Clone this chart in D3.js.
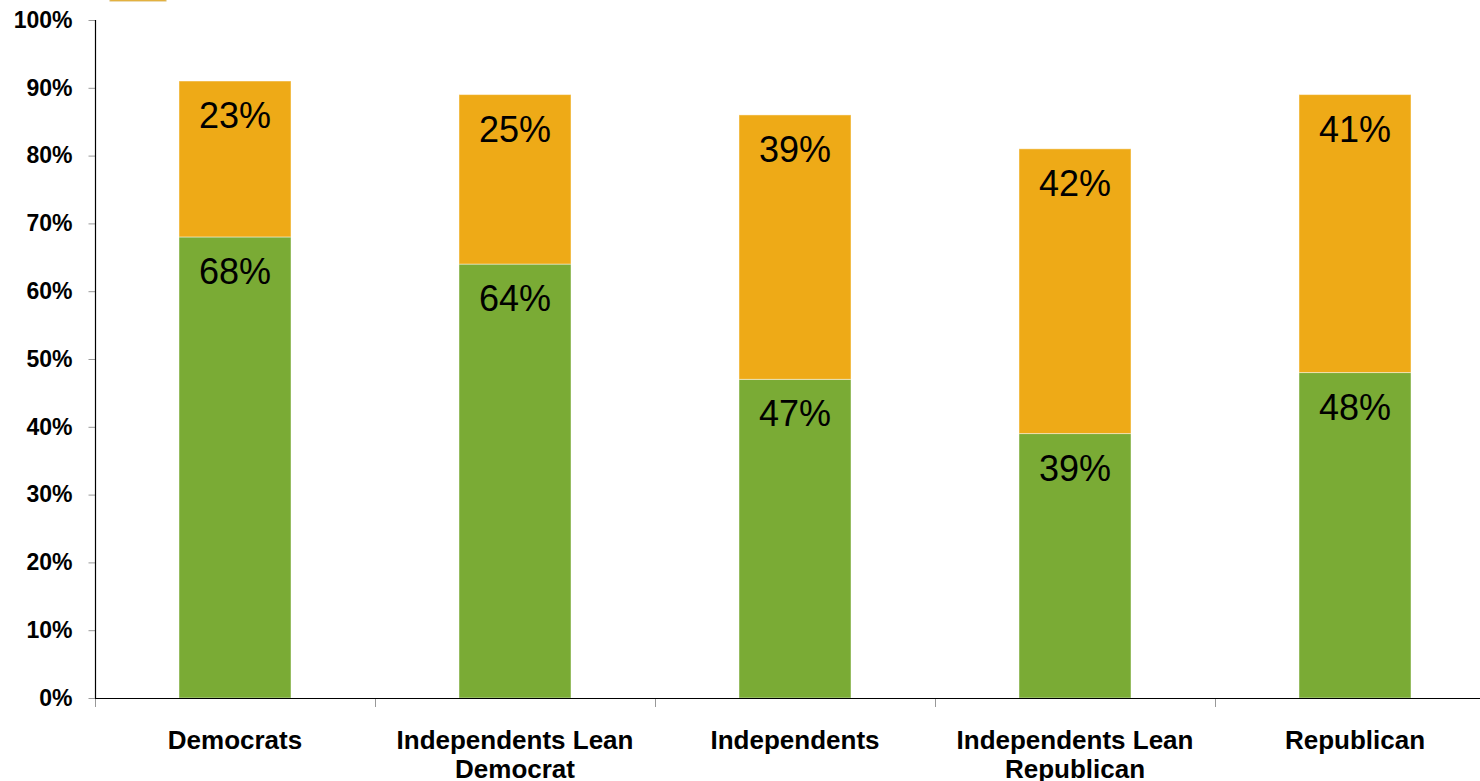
<!DOCTYPE html>
<html>
<head>
<meta charset="utf-8">
<script src="https://cdn.jsdelivr.net/npm/d3@7"></script>
<style>
html,body{margin:0;padding:0;background:#fff;}
svg{display:block;font-family:Arial,"Liberation Sans",sans-serif;}
</style>
</head>
<body>
<svg id="chart" width="1480" height="781"></svg>
<script>
const categories = [["Democrats"], ["Independents Lean", "Democrat"], ["Independents"], ["Independents Lean", "Republican"], ["Republican"]];
const greenValues = [68, 64, 47, 39, 48];
const orangeValues = [23, 25, 39, 42, 41];
const yTicks = [0, 10, 20, 30, 40, 50, 60, 70, 80, 90, 100];

const green = "#7AAB35";
const orange = "#EEAA17";

const svg = d3.select("#chart");
const keys = categories.map((c, i) => i);

const x = d3.scaleBand().domain(keys).range([95, 1495]).paddingInner(0.6).paddingOuter(0.3);
const y = d3.scaleLinear().domain([0, 100]).range([698, 20]);

// legend fragment at top
svg.append("rect").attr("x", 110).attr("y", -20).attr("width", 56).attr("height", 21)
  .attr("fill", orange).attr("stroke", "#D9B96A").attr("stroke-width", 1);

// y axis
const yAxis = d3.axisLeft(y).tickValues(yTicks).tickSize(7).tickPadding(16).tickFormat(d => d + "%");
const gy = svg.append("g").attr("transform", "translate(95.5,0)").call(yAxis);
gy.select(".domain").remove();
gy.selectAll(".tick line").attr("stroke", "#999");
gy.selectAll(".tick text").attr("font-size", 23).attr("font-weight", "bold").attr("fill", "#000")
  .attr("font-family", "Arial, 'Liberation Sans', sans-serif");
svg.append("line").attr("x1", 95.5).attr("x2", 95.5).attr("y1", y(100)).attr("y2", y(0)).attr("stroke", "#000").attr("stroke-width", 1.2);

// bars
const g = svg.append("g");
keys.forEach(i => {
  const bx = x(i), bw = x.bandwidth();
  const g0 = y(0), g1 = y(greenValues[i]);
  const o1 = y(greenValues[i] + orangeValues[i]);
  g.append("rect").attr("x", bx).attr("y", g1).attr("width", bw).attr("height", g0 - g1)
    .attr("fill", green).attr("stroke", "rgba(255,255,255,0.45)").attr("stroke-width", 1);
  g.append("rect").attr("x", bx).attr("y", o1).attr("width", bw).attr("height", g1 - o1)
    .attr("fill", orange).attr("stroke", "rgba(255,255,255,0.45)").attr("stroke-width", 1);
  g.append("text").attr("x", bx + bw / 2).attr("y", g1 + 47).attr("text-anchor", "middle")
    .attr("font-size", 36).attr("fill", "#000").text(greenValues[i] + "%");
  g.append("text").attr("x", bx + bw / 2).attr("y", o1 + 47).attr("text-anchor", "middle")
    .attr("font-size", 36).attr("fill", "#000").text(orangeValues[i] + "%");
});

// x axis
svg.append("line").attr("x1", 95).attr("x2", 1480).attr("y1", 698.5).attr("y2", 698.5).attr("stroke", "#000").attr("stroke-width", 1.2);
const boundaries = keys.map(i => x(i) - x.step() * 0.3);
boundaries.forEach(bx => {
  svg.append("line").attr("x1", bx + 0.5).attr("x2", bx + 0.5).attr("y1", 699).attr("y2", 707).attr("stroke", "#999");
});

// category labels
keys.forEach(i => {
  const t = svg.append("text").attr("x", x(i) + x.bandwidth() / 2).attr("y", 749)
    .attr("text-anchor", "middle").attr("font-size", 26).attr("font-weight", "bold").attr("fill", "#000");
  categories[i].forEach((line, j) => {
    t.append("tspan").attr("x", x(i) + x.bandwidth() / 2).attr("dy", j === 0 ? 0 : 29).text(line);
  });
});
</script>
</body>
</html>
